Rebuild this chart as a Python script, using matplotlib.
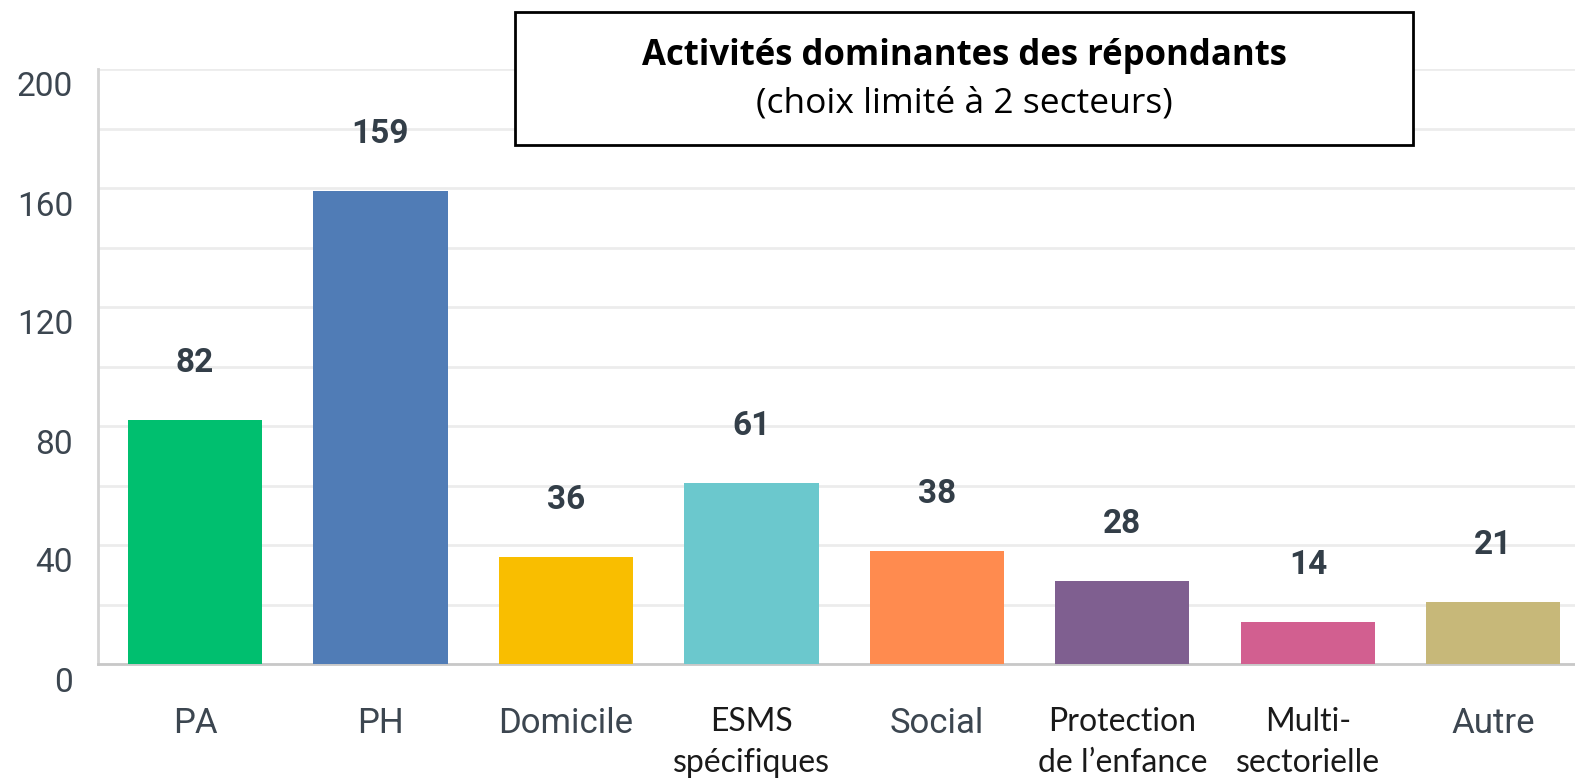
import matplotlib.pyplot as plt
import matplotlib.transforms as mtransforms
from matplotlib.patches import Rectangle

# Données
categories = ['PA', 'PH', 'Domicile', 'ESMS\nspécifiques', 'Social',
              'Protection\nde l’enfance', 'Multi-\nsectorielle', 'Autre']
valeurs = [82, 159, 36, 61, 38, 28, 14, 21]
couleurs = ['#00BF6F', '#507CB6', '#F9BE00', '#6BC8CD',
            '#FF8B4F', '#7F5F90', '#D25F90', '#C7B879']
titre = 'Activités dominantes des répondants'
sous_titre = '(choix limité à 2 secteurs)'

fig = plt.figure(figsize=(15.75, 7.81), dpi=100)
ax = fig.add_axes([98 / 1575, 117 / 781, 1 - 98 / 1575, (664 - 69) / 781])

x = range(len(categories))
ax.bar(x, valeurs, width=0.723, color=couleurs, zorder=3)
ax.set_xlim(-0.523, 7.44)
ax.set_ylim(0, 200)

# Grille tous les 20, étiquettes tous les 40
ax.set_yticks(range(20, 200, 20), minor=True)
ax.set_yticks(range(0, 201, 40))
ax.grid(axis='y', which='both', color='#ececec', linewidth=2, zorder=0)
ax.set_axisbelow(True)

for s in ['top', 'right']:
    ax.spines[s].set_visible(False)
ax.spines['left'].set_color('#d4d4d4')
ax.spines['left'].set_linewidth(2)
ax.spines['bottom'].set_color('#c8c8c8')
ax.spines['bottom'].set_linewidth(2)
ax.tick_params(axis='both', which='both', length=0)
ax.tick_params(axis='y', pad=18, labelsize=24, labelcolor='#3c4650')

# Étiquettes de l'axe y un peu décalées vers le bas
decal = mtransforms.ScaledTranslation(0, -15 / 100, fig.dpi_scale_trans)
for lab in ax.get_yticklabels():
    lab.set_fontfamily('Roboto')
    lab.set_transform(lab.get_transform() + decal)

ax.set_xticks(list(x))
ax.set_xticklabels(categories)
ax.tick_params(axis='x', pad=31)
for lab in ax.get_xticklabels():
    if '\n' in lab.get_text():
        lab.set_fontfamily('Lato')
        lab.set_fontsize(23)
        lab.set_color('#1a1a1a')
        lab.set_linespacing(1.45)
    else:
        lab.set_fontfamily('Roboto')
        lab.set_fontsize(25)
        lab.set_color('#3c4650')

# Valeurs au-dessus des barres
for xi, v in zip(x, valeurs):
    ax.annotate(str(v), (xi, v), xytext=(0, 41), textcoords='offset points',
                ha='center', va='center', fontsize=24, fontweight='bold',
                fontfamily='Roboto', color='#333e48')

# Encadré du titre
fig.patches.append(Rectangle((515 / 1575, 1 - 145 / 781), 898 / 1575, 133 / 781,
                             transform=fig.transFigure, facecolor='white',
                             edgecolor='black', linewidth=2, zorder=5))
fig.text(964 / 1575, 1 - 56 / 781, titre, ha='center', va='center',
         fontsize=25, fontweight='bold', fontfamily='Open Sans', color='black', zorder=6)
fig.text(964 / 1575, 1 - 104 / 781, sous_titre, ha='center', va='center',
         fontsize=25.5, fontfamily='Open Sans', color='black', zorder=6)

fig.savefig('out.png', dpi=100)
